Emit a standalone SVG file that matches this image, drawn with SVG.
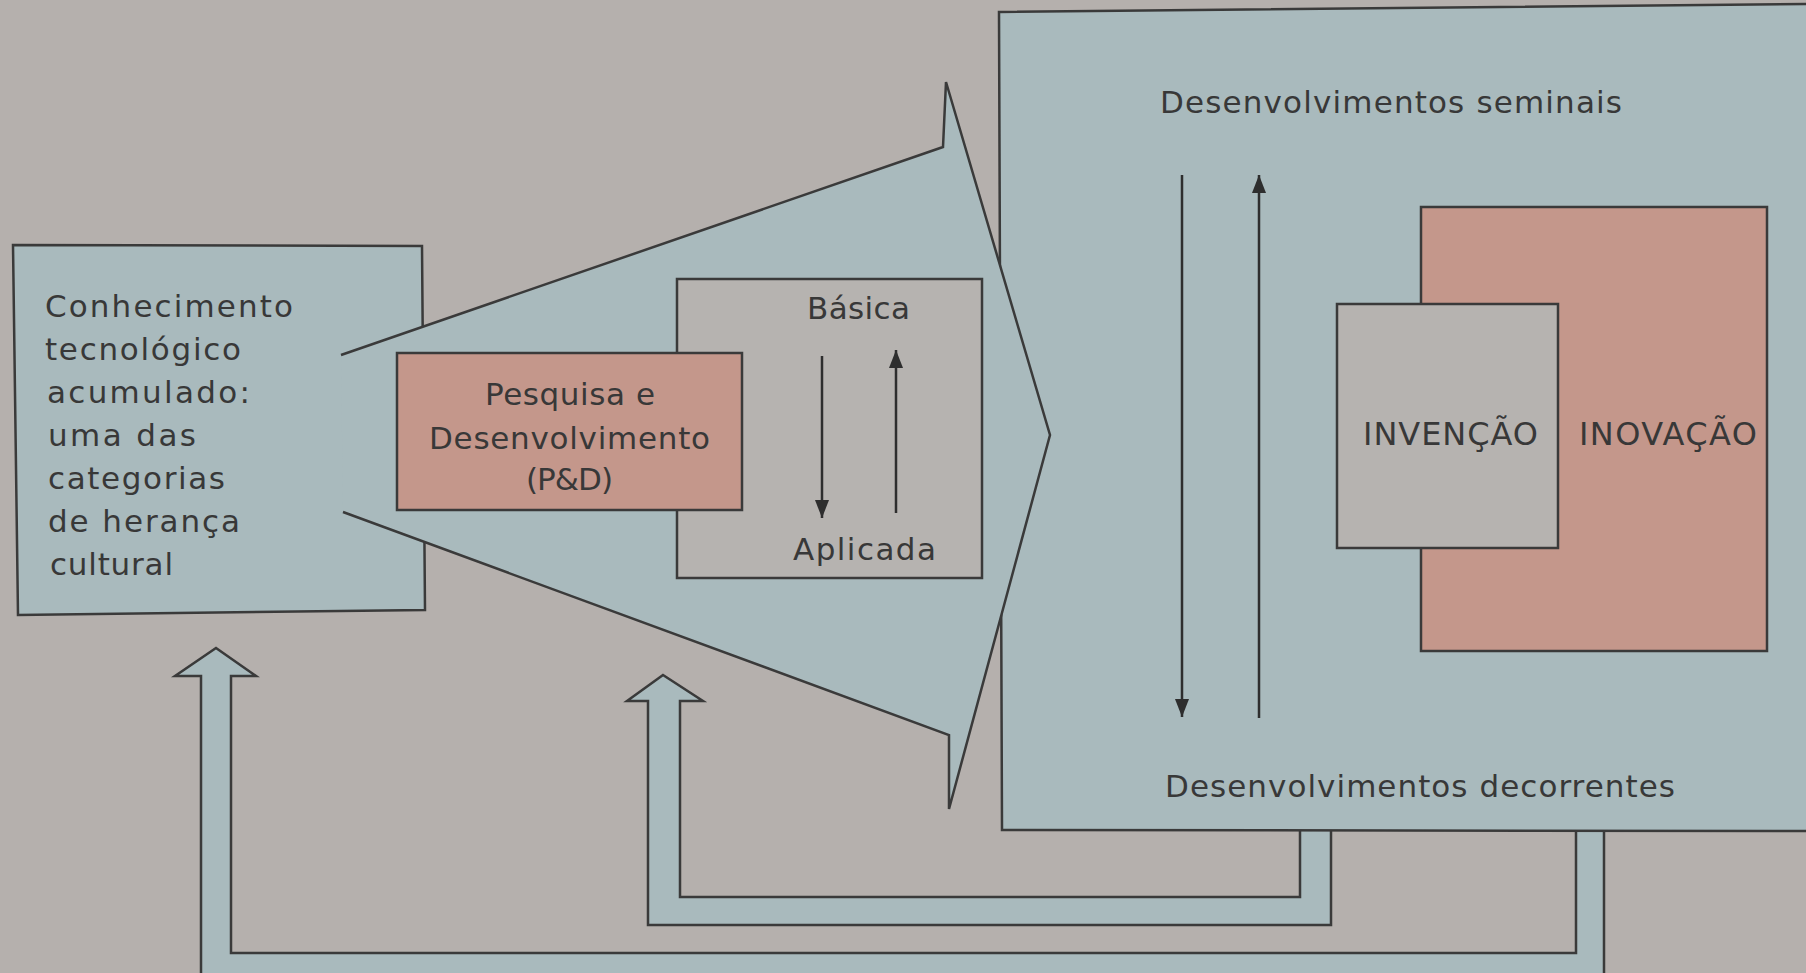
<svg xmlns="http://www.w3.org/2000/svg" width="1806" height="973" viewBox="0 0 1806 973">
  <defs>
    <style>
      .bg { fill: #b5b0ad; }
      .blue { fill: #a9babd; stroke: #3a3a3a; stroke-width: 2.5; stroke-linejoin: miter; }
      .bluefill { fill: #a9babd; stroke: none; }
      .pink { fill: #c4978b; stroke: #3a3a3a; stroke-width: 2.5; }
      .gray { fill: #b6b3b0; stroke: #3a3a3a; stroke-width: 2.5; }
      .edge { fill: none; stroke: #3a3a3a; stroke-width: 2.5; stroke-linejoin: miter; }
      .thin { fill: none; stroke: #2e2e2e; stroke-width: 2.5; }
      text { font-family: "DejaVu Sans", "Liberation Sans", sans-serif; fill: #383838; font-size: 31px; }
      .caps { font-size: 32px; }
    </style>
    <marker id="ah" viewBox="0 0 10 10" refX="10" refY="5" markerWidth="18" markerHeight="14" markerUnits="userSpaceOnUse" orient="auto" preserveAspectRatio="none">
      <path d="M0,0 L10,5 L0,10 z" fill="#2e2e2e"/>
    </marker>
  </defs>

  <rect class="bg" x="0" y="0" width="1806" height="973"/>

  <g id="connectors">
    <!-- feedback arrow to left box (outer loop) -->
    <polygon class="blue" points="216,648 256,676 231,676 231,953 1576,953 1576,829 1604,829 1604,1000 201,1000 201,676 175,676"/>
    <!-- feedback arrow to P&D (inner loop) -->
    <polygon class="blue" points="663,675 703,701 680,701 680,897 1300,897 1300,829 1331,829 1331,925 648,925 648,701 627,701"/>
  </g>

  <g id="node-conhecimento">
    <polygon class="blue" points="13,245 422,246 425,610 18,615"/>
    <text x="45" y="317" textLength="248" lengthAdjust="spacing">Conhecimento</text>
    <text x="45" y="360" textLength="196" lengthAdjust="spacing">tecnológico</text>
    <text x="47" y="403" textLength="203" lengthAdjust="spacing">acumulado:</text>
    <text x="48" y="446" textLength="148" lengthAdjust="spacing">uma das</text>
    <text x="48" y="489" textLength="177" lengthAdjust="spacing">categorias</text>
    <text x="48" y="532" textLength="192" lengthAdjust="spacing">de herança</text>
    <text x="50" y="575" textLength="123" lengthAdjust="spacing">cultural</text>
  </g>

  <g id="node-desenvolvimentos">
    <polygon class="blue" points="999,12 1812,4 1812,831 1002,830"/>
    <text x="1160" y="113" textLength="462" lengthAdjust="spacing">Desenvolvimentos  seminais</text>
    <text x="1165" y="797" textLength="510" lengthAdjust="spacing">Desenvolvimentos  decorrentes</text>
    <line class="thin" x1="1182" y1="175" x2="1182" y2="717" marker-end="url(#ah)"/>
    <line class="thin" x1="1259" y1="718" x2="1259" y2="175" marker-end="url(#ah)"/>
  </g>

  <g id="node-funil">
    <polygon class="bluefill" points="341,355 943,147 946,82 1050,435 949,809 949,735 343,512"/>
    <polyline class="edge" points="341,355 943,147 946,82 1050,435 949,809 949,735 343,512"/>
  </g>

  <g id="node-basica-aplicada">
    <rect class="gray" x="677" y="279" width="305" height="299"/>
    <text x="807" y="319" textLength="103" lengthAdjust="spacing">Básica</text>
    <text x="793" y="560" textLength="143" lengthAdjust="spacing">Aplicada</text>
    <line class="thin" x1="822" y1="356" x2="822" y2="518" marker-end="url(#ah)"/>
    <line class="thin" x1="896" y1="513" x2="896" y2="350" marker-end="url(#ah)"/>
  </g>

  <g id="node-ped">
    <rect class="pink" x="397" y="353" width="345" height="157"/>
    <text x="485" y="405" textLength="170" lengthAdjust="spacing">Pesquisa e</text>
    <text x="429" y="449" textLength="281" lengthAdjust="spacing">Desenvolvimento</text>
    <text x="526" y="490" textLength="87" lengthAdjust="spacing">(P&amp;D)</text>
  </g>

  <g id="node-inovacao">
    <rect class="pink" x="1421" y="207" width="346" height="444"/>
    <text class="caps" x="1579" y="445" textLength="178" lengthAdjust="spacing">INOVAÇÃO</text>
  </g>

  <g id="node-invencao">
    <rect class="gray" x="1337" y="304" width="221" height="244"/>
    <text class="caps" x="1363" y="445" textLength="175" lengthAdjust="spacing">INVENÇÃO</text>
  </g>
</svg>
